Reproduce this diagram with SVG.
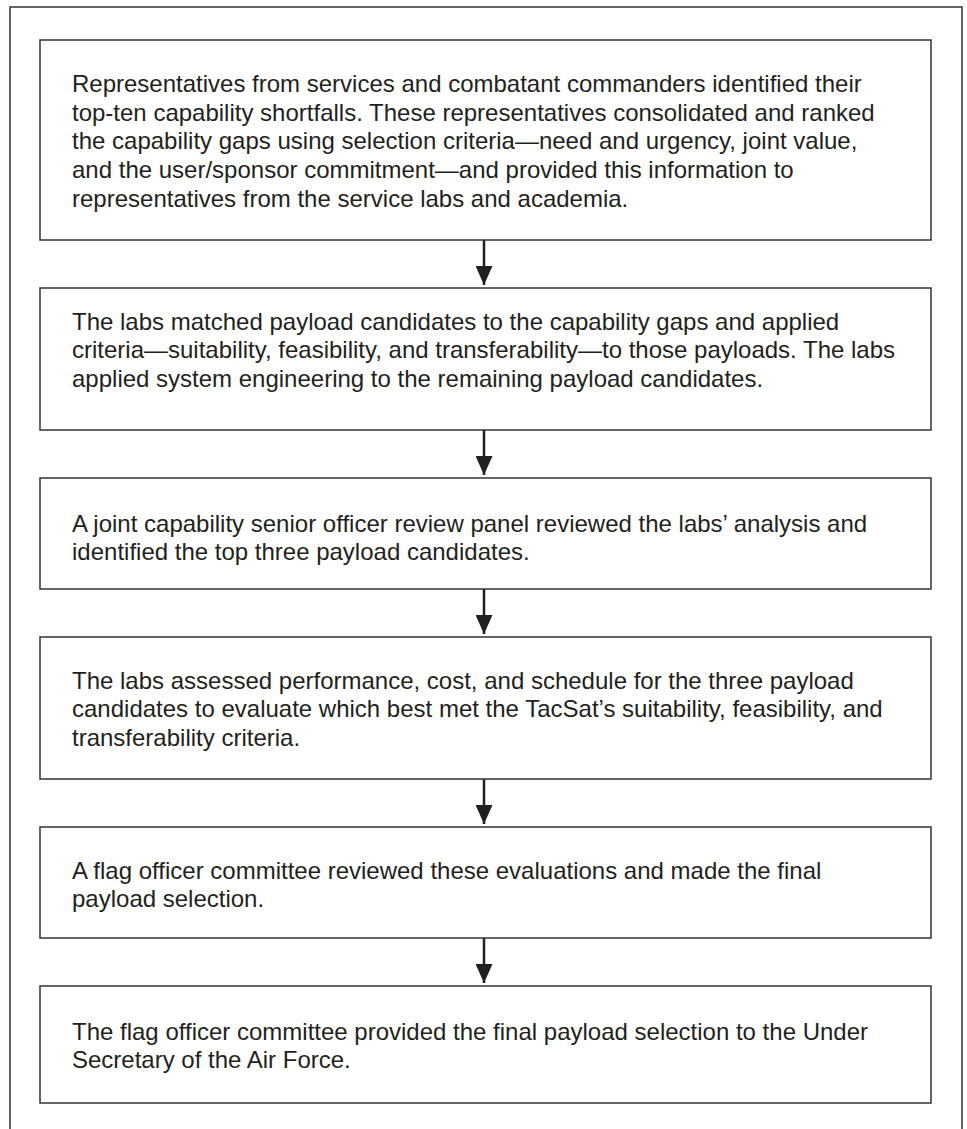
<svg xmlns="http://www.w3.org/2000/svg" width="967" height="1129" viewBox="0 0 967 1129">
<style>
.box{fill:#fff;stroke:#333;stroke-width:1.5}
.frame{fill:none;stroke:#333;stroke-width:1.5}
.t{font-family:"Liberation Sans",Arial,sans-serif;font-size:24px;fill:#231f20}
.con{stroke:#231f20;stroke-width:2.5;fill:none}
</style>
<defs>
<marker id="ah" viewBox="0 0 19 17" refX="19" refY="8.5" markerWidth="19" markerHeight="17" markerUnits="userSpaceOnUse" orient="auto">
<path d="M0,0 L19,8.5 L0,17 Z" fill="#231f20"/>
</marker>
</defs>
<rect x="0" y="0" width="967" height="1129" fill="#fff"/>
<path class="frame" d="M10,1129 V7 H962 V1129"/>
<g id="connectors">
<line class="con" x1="484" y1="240" x2="484" y2="285" marker-end="url(#ah)"/>
<line class="con" x1="484" y1="430" x2="484" y2="475" marker-end="url(#ah)"/>
<line class="con" x1="484" y1="589" x2="484" y2="634" marker-end="url(#ah)"/>
<line class="con" x1="484" y1="779" x2="484" y2="824" marker-end="url(#ah)"/>
<line class="con" x1="484" y1="938" x2="484" y2="983" marker-end="url(#ah)"/>
</g>
<g id="n1">
<rect class="box" x="40" y="40" width="891" height="200"/>
<text class="t" x="72" y="92">Representatives from services and combatant commanders identified their</text>
<text class="t" x="72" y="120.7">top-ten capability shortfalls. These representatives consolidated and ranked</text>
<text class="t" x="72" y="149.4">the capability gaps using selection criteria—need and urgency, joint value,</text>
<text class="t" x="72" y="178.1">and the user/sponsor commitment—and provided this information to</text>
<text class="t" x="72" y="206.8">representatives from the service labs and academia.</text>
</g>
<g id="n2">
<rect class="box" x="40" y="288" width="891" height="142"/>
<text class="t" x="72" y="329.5">The labs matched payload candidates to the capability gaps and applied</text>
<text class="t" x="72" y="358.2">criteria—suitability, feasibility, and transferability—to those payloads. The labs</text>
<text class="t" x="72" y="386.9">applied system engineering to the remaining payload candidates.</text>
</g>
<g id="n3">
<rect class="box" x="40" y="478" width="891" height="111"/>
<text class="t" x="72" y="531.5">A joint capability senior officer review panel reviewed the labs’ analysis and</text>
<text class="t" x="72" y="560.2">identified the top three payload candidates.</text>
</g>
<g id="n4">
<rect class="box" x="40" y="637" width="891" height="142"/>
<text class="t" x="72" y="688.5">The labs assessed performance, cost, and schedule for the three payload</text>
<text class="t" x="72" y="717.2">candidates to evaluate which best met the TacSat’s suitability, feasibility, and</text>
<text class="t" x="72" y="745.9">transferability criteria.</text>
</g>
<g id="n5">
<rect class="box" x="40" y="827" width="891" height="111"/>
<text class="t" x="72" y="878.5">A flag officer committee reviewed these evaluations and made the final</text>
<text class="t" x="72" y="907.2">payload selection.</text>
</g>
<g id="n6">
<rect class="box" x="40" y="986" width="891" height="117"/>
<text class="t" x="72" y="1039.5">The flag officer committee provided the final payload selection to the Under</text>
<text class="t" x="72" y="1068.2">Secretary of the Air Force.</text>
</g>
</svg>
